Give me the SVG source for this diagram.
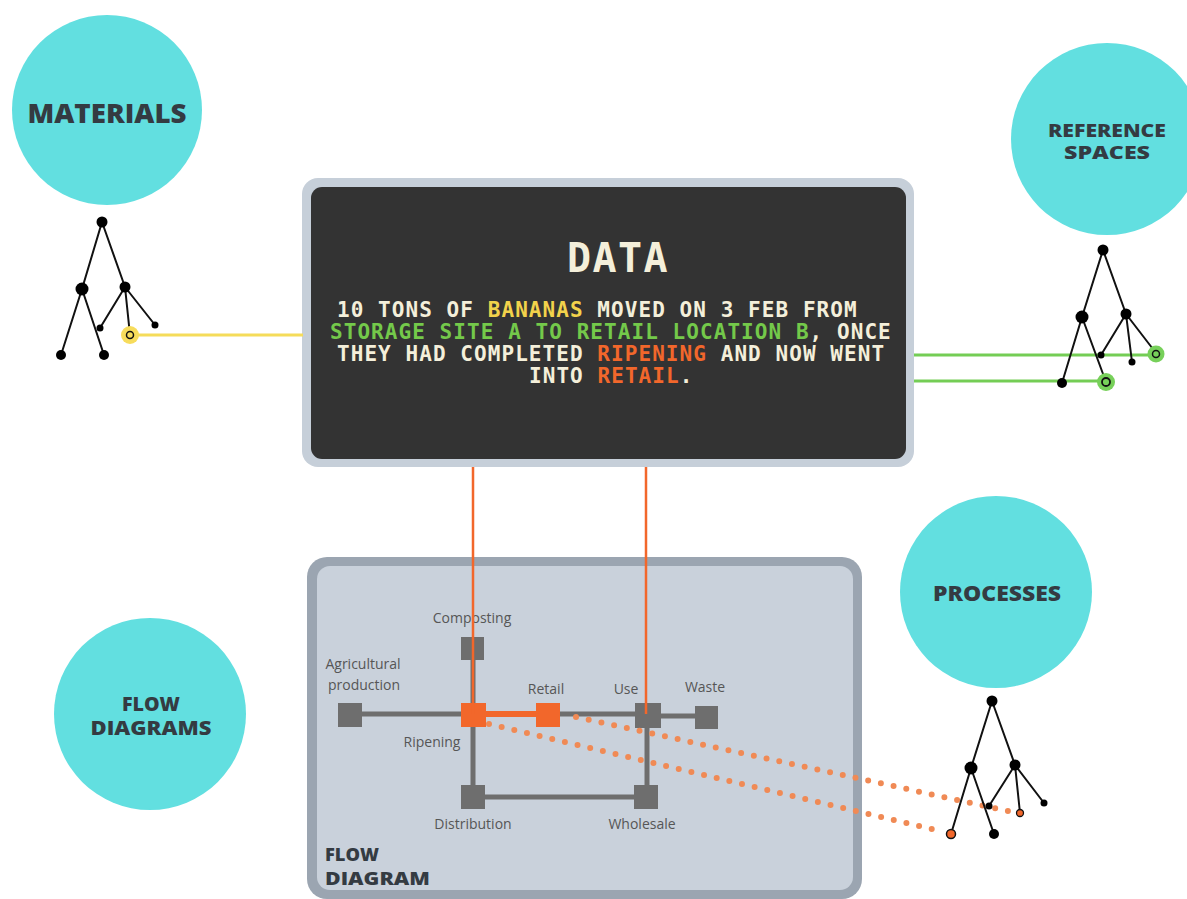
<svg xmlns="http://www.w3.org/2000/svg" width="1187" height="899" viewBox="0 0 1187 899">
<style>
.circle{fill:#62dfe0}
.clabel{font-family:"Open Sans","Liberation Sans",sans-serif;font-weight:800;fill:#343b42;text-anchor:middle}
.mono{font-family:"DejaVu Sans Mono","Liberation Mono",monospace;font-weight:bold;fill:#f4efda}
.y{fill:#f2d24b}.g{fill:#74c94a}.o{fill:#f2672b}
.lbl{font-family:"Open Sans","Liberation Sans",sans-serif;font-size:14px;fill:#565656;text-anchor:middle}
.sq{fill:#6e6e6e}.sqo{fill:#f2672b}
.edge{stroke:#6e6e6e;stroke-width:5;fill:none}
.tl{stroke:#111;stroke-width:2;fill:none}
.tn{fill:#000}
.dot{stroke:#f08a55;stroke-width:6;stroke-linecap:round;stroke-dasharray:0 13;fill:none}
</style>

<rect width="1187" height="899" fill="#ffffff"/>

<g id="materials">
<circle class="circle" cx="107" cy="110" r="95"/>
<text class="clabel" x="107" y="123" font-size="27" textLength="159" lengthAdjust="spacingAndGlyphs">MATERIALS</text>
</g>
<g id="reference-spaces">
<circle class="circle" cx="1107" cy="139" r="96"/>
<text class="clabel" x="1107" y="137" font-size="18" textLength="118" lengthAdjust="spacingAndGlyphs">REFERENCE</text>
<text class="clabel" x="1107" y="159" font-size="18" textLength="86" lengthAdjust="spacingAndGlyphs">SPACES</text>
</g>
<g id="flow-diagrams">
<circle class="circle" cx="150" cy="714" r="96"/>
<text class="clabel" x="151" y="711" font-size="19" textLength="58" lengthAdjust="spacingAndGlyphs">FLOW</text>
<text class="clabel" x="151" y="735" font-size="19" textLength="121" lengthAdjust="spacingAndGlyphs">DIAGRAMS</text>
</g>
<g id="processes">
<circle class="circle" cx="996" cy="592" r="96"/>
<text class="clabel" x="997" y="601" font-size="21" textLength="128" lengthAdjust="spacingAndGlyphs">PROCESSES</text>
</g>

<g id="data">
<rect x="302" y="178" width="612" height="289" rx="16" fill="#c6cfd9"/>
<rect x="311" y="187" width="595" height="272" rx="11" fill="#333333"/>
<text class="mono" x="567" y="272" font-size="40" letter-spacing="1.4">DATA</text>
<text class="mono" font-size="21" letter-spacing="1.06">
<tspan x="337" y="317">10 TONS OF <tspan class="y">BANANAS</tspan> MOVED ON 3 FEB FROM</tspan>
<tspan x="330" y="339"><tspan class="g">STORAGE SITE A TO RETAIL LOCATION B</tspan>, ONCE</tspan>
<tspan x="337" y="361">THEY HAD COMPLETED <tspan class="o">RIPENING</tspan> AND NOW WENT</tspan>
<tspan x="529" y="383">INTO <tspan class="o">RETAIL</tspan>.</tspan>
</text>
</g>

<g id="flow-diagram">
<rect x="307" y="557" width="555" height="342" rx="20" fill="#9ba5b1"/>
<rect x="317" y="566" width="536" height="324" rx="13" fill="#c9d1db"/>
<text x="325" y="861" font-family="'Open Sans','Liberation Sans',sans-serif" font-weight="800" font-size="18" fill="#343b42" textLength="54" lengthAdjust="spacingAndGlyphs">FLOW</text>
<text x="325" y="885" font-family="'Open Sans','Liberation Sans',sans-serif" font-weight="800" font-size="18" fill="#343b42" textLength="105" lengthAdjust="spacingAndGlyphs">DIAGRAM</text>
</g>

<g id="flow-edges">
<line class="edge" x1="350" y1="714" x2="648" y2="714"/>
<line class="edge" x1="648" y1="716" x2="707" y2="716"/>
<line class="edge" x1="473" y1="648" x2="473" y2="797"/>
<line class="edge" x1="647" y1="714" x2="647" y2="797"/>
<line class="edge" x1="473" y1="797" x2="647" y2="797"/>
<line x1="473" y1="714" x2="548" y2="714" stroke="#f2672b" stroke-width="6"/>
</g>

<g id="node-agricultural">
<rect class="sq" x="338" y="703" width="24" height="24"/>
<text class="lbl" x="363" y="669">Agricultural</text>
<text class="lbl" x="364" y="690">production</text>
</g>
<g id="node-composting">
<rect class="sq" x="461" y="637" width="23" height="23"/>
<text class="lbl" x="472" y="623">Composting</text>
</g>
<g id="node-ripening">
<rect class="sqo" x="461" y="703" width="25" height="24"/>
<text class="lbl" x="432" y="747">Ripening</text>
</g>
<g id="node-retail">
<rect class="sqo" x="536" y="703" width="24" height="24"/>
<text class="lbl" x="546" y="694">Retail</text>
</g>
<g id="node-use">
<rect class="sq" x="635" y="703" width="26" height="25"/>
<text class="lbl" x="626" y="694">Use</text>
</g>
<g id="node-waste">
<rect class="sq" x="695" y="706" width="23" height="23"/>
<text class="lbl" x="705" y="692">Waste</text>
</g>
<g id="node-distribution">
<rect class="sq" x="461" y="785" width="24" height="24"/>
<text class="lbl" x="473" y="829">Distribution</text>
</g>
<g id="node-wholesale">
<rect class="sq" x="634" y="785" width="24" height="24"/>
<text class="lbl" x="642" y="829">Wholesale</text>
</g>

<g id="connectors">
<line x1="473" y1="467" x2="473" y2="714" stroke="#f2672b" stroke-width="2.5"/>
<line x1="646" y1="467" x2="646" y2="714" stroke="#f2672b" stroke-width="2.5"/>
<line class="dot" x1="576" y1="717" x2="1008" y2="811"/>
<line class="dot" x1="489" y1="724" x2="940" y2="831"/>
<line x1="130" y1="335" x2="303" y2="335" stroke="#f5dc5a" stroke-width="3"/>
<line x1="914" y1="355" x2="1156" y2="355" stroke="#74cd55" stroke-width="3"/>
<line x1="914" y1="381" x2="1106" y2="381" stroke="#74cd55" stroke-width="3"/>
</g>

<g id="tree-materials">
<path class="tl" d="M102 222L82 289M102 222L125 287M82 289L61 355M82 289L104 355M125 287L100 328M125 287L130 335M125 287L155 325"/>
<circle class="tn" cx="102" cy="222" r="5.5"/>
<circle class="tn" cx="82" cy="289" r="6.5"/>
<circle class="tn" cx="125" cy="287" r="5.5"/>
<circle class="tn" cx="100" cy="328" r="3.5"/>
<circle class="tn" cx="155" cy="325" r="3.5"/>
<circle class="tn" cx="61" cy="355" r="5"/>
<circle class="tn" cx="104" cy="355" r="5"/>
<circle cx="130" cy="335" r="9" fill="#f7dc5c"/>
<circle cx="130" cy="335" r="3.5" fill="#f7dc5c" stroke="#111" stroke-width="1.5"/>
</g>

<g id="tree-reference-spaces">
<path class="tl" d="M1103 250L1082 317M1103 250L1126 314M1082 317L1062 383M1082 317L1106 382M1126 314L1101 355M1126 314L1132 362M1126 314L1156 353"/>
<circle class="tn" cx="1103" cy="250" r="5.5"/>
<circle class="tn" cx="1082" cy="317" r="6.5"/>
<circle class="tn" cx="1126" cy="314" r="5.5"/>
<circle class="tn" cx="1101" cy="355" r="3.5"/>
<circle class="tn" cx="1132" cy="362" r="3.5"/>
<circle class="tn" cx="1062" cy="383" r="5"/>
<circle cx="1156" cy="354" r="8.5" fill="#77d05a"/>
<circle cx="1156" cy="354" r="3.5" fill="#77d05a" stroke="#111" stroke-width="1.5"/>
<circle cx="1106" cy="382" r="9" fill="#77d05a"/>
<circle cx="1106" cy="382" r="4" fill="#77d05a" stroke="#111" stroke-width="1.8"/>
</g>

<g id="tree-processes">
<path class="tl" d="M992 701L971 768M992 701L1015 765M971 768L951 834M971 768L994 834M1015 765L989 806M1015 765L1020 813M1015 765L1044 803"/>
<circle class="tn" cx="992" cy="701" r="5.5"/>
<circle class="tn" cx="971" cy="768" r="6.5"/>
<circle class="tn" cx="1015" cy="765" r="5.5"/>
<circle class="tn" cx="989" cy="806" r="3.5"/>
<circle class="tn" cx="1044" cy="803" r="3.5"/>
<circle class="tn" cx="994" cy="834" r="5"/>
<circle cx="1020" cy="813" r="3.5" fill="#f2672b" stroke="#111" stroke-width="1.3"/>
<circle cx="951" cy="834" r="4.5" fill="#f2672b" stroke="#111" stroke-width="1.5"/>
</g>
</svg>
